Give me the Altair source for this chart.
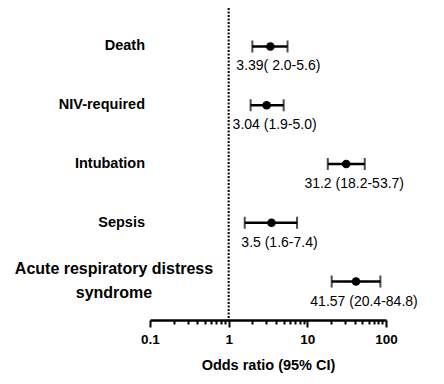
import altair as alt
import pandas as pd

outcomes = ["Death", "NIV-required", "Intubation", "Sepsis",
            "Acute respiratory distress syndrome"]
row_labels = ["Death", "NIV-required", "Intubation", "Sepsis",
              "Acute respiratory distress\nsyndrome"]
odds = [3.39, 3.04, 31.2, 3.5, 41.57]
lower = [2.0, 1.9, 18.2, 1.6, 20.4]
upper = [5.6, 5.0, 53.7, 7.4, 84.8]
value_labels = ["3.39( 2.0-5.6)", "3.04 (1.9-5.0)", "31.2 (18.2-53.7)",
                "3.5 (1.6-7.4)", "41.57 (20.4-84.8)"]
tick_values = [0.1, 0.2, 0.3, 0.4, 0.5, 0.6, 0.7, 0.8, 0.9,
               1, 2, 3, 4, 5, 6, 7, 8, 9,
               10, 20, 30, 40, 50, 60, 70, 80, 90, 100]
major_ticks = [0.1, 1, 10, 100]
reference_line = [1]

df = pd.DataFrame({
    "outcome": outcomes,
    "row_label": row_labels,
    "odds": odds,
    "lower": lower,
    "upper": upper,
    "value_label": value_labels,
})
ref_df = pd.DataFrame({"odds": reference_line})

FONT = "Liberation Sans"
major_test = "indexof(" + str(major_ticks) + ", datum.value) >= 0"

xscale = alt.Scale(type="log", domain=[0.1, 100], nice=False)
xaxis = alt.Axis(
    values=tick_values,
    labelExpr=major_test + " ? format(datum.value, '~g') : ''",
    title="Odds ratio (95% CI)",
    grid=False,
    domainColor="black",
    domainWidth=2.5,
    tickColor="black",
    tickWidth=2,
    tickSize={"condition": {"test": major_test, "value": 7}, "value": 4},
    labelFont=FONT,
    labelFontSize=13.5,
    labelFontWeight="bold",
    labelColor="black",
    labelPadding=5,
    labelFlush=False,
    labelOverlap=False,
    titleFont=FONT,
    titleFontSize=14.5,
    titleFontWeight="bold",
    titleColor="black",
    titlePadding=13,
)
yenc = alt.Y("outcome:N", sort=outcomes,
             scale=alt.Scale(type="point", padding=0.655), axis=None)

base = alt.Chart(df)

ref_rule = alt.Chart(ref_df).mark_rule(
    color="black", strokeWidth=2, strokeDash=[2, 1.5]
).encode(x=alt.X("odds:Q", scale=xscale, axis=xaxis))

bars = base.mark_rule(color="black", strokeWidth=2.5).encode(
    x=alt.X("lower:Q", scale=xscale, axis=xaxis),
    x2="upper:Q",
    y=yenc,
)
cap_lo = base.mark_tick(color="black", size=12, thickness=2).encode(
    x=alt.X("lower:Q", scale=xscale, axis=xaxis), y=yenc)
cap_hi = base.mark_tick(color="black", size=12, thickness=2).encode(
    x=alt.X("upper:Q", scale=xscale, axis=xaxis), y=yenc)
points = base.mark_circle(color="black", opacity=1, size=75).encode(
    x=alt.X("odds:Q", scale=xscale, axis=xaxis), y=yenc)
vlabels = base.mark_text(
    font=FONT, fontSize=14, color="black", align="center",
    baseline="middle", dx=8, dy=20
).encode(x=alt.X("odds:Q", scale=xscale, axis=xaxis), y=yenc,
         text="value_label:N")

single = base.transform_filter("indexof(datum.row_label, '\\n') < 0")
cat_labels = single.mark_text(
    font=FONT, fontSize=14.5, fontWeight="bold", color="black",
    align="right", baseline="middle"
).encode(x=alt.value(-5), y=yenc, text="row_label:N")

multi = base.transform_filter("indexof(datum.row_label, '\\n') >= 0")
cat_labels_multi = multi.mark_text(
    font=FONT, fontSize=16, fontWeight="bold", color="black",
    align="center", baseline="middle", lineBreak="\n", lineHeight=24, dy=-13
).encode(x=alt.value(-36), y=yenc, text="row_label:N")

chart = alt.layer(
    ref_rule, bars, cap_lo, cap_hi, points, vlabels, cat_labels, cat_labels_multi
).properties(
    width=236,
    height=312,
    padding={"left": 142, "top": 0, "right": 50, "bottom": 56},
    autosize=alt.AutoSizeParams(type="none"),
).configure_view(stroke=None)

chart.save("out.html", embed_options={"renderer": "svg", "actions": False})
